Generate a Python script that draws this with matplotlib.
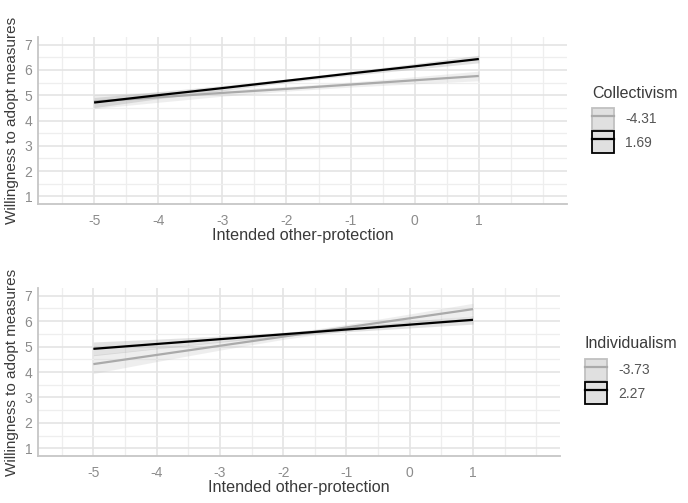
import numpy as np
import matplotlib
matplotlib.use("Agg")
import matplotlib.pyplot as plt
from matplotlib.patches import Patch
from matplotlib.lines import Line2D

plt.rcParams['font.family'] = ['Liberation Sans', 'DejaVu Sans']
plt.rcParams['axes.unicode_minus'] = False

# intended other-protection values where the fitted lines were read
x_vals = [-5, -4, -3, -2, -1, 0, 1]

# top panel: Collectivism moderator
coll_levels = ['-4.31', '1.69']
coll_fit_low = [4.75, 4.92, 5.09, 5.25, 5.42, 5.59, 5.76]
coll_fit_high = [4.71, 5.00, 5.28, 5.57, 5.86, 6.14, 6.43]
coll_se_low = [0.28, 0.20, 0.13, 0.09, 0.10, 0.14, 0.19]
coll_se_high = [0.20, 0.14, 0.10, 0.07, 0.08, 0.11, 0.15]

# bottom panel: Individualism moderator
ind_levels = ['-3.73', '2.27']
ind_fit_low = [4.31, 4.67, 5.03, 5.39, 5.75, 6.11, 6.47]
ind_fit_high = [4.91, 5.10, 5.29, 5.48, 5.67, 5.86, 6.05]
ind_se_low = [0.37, 0.26, 0.17, 0.11, 0.12, 0.17, 0.23]
ind_se_high = [0.27, 0.19, 0.12, 0.08, 0.09, 0.13, 0.17]

x_ticks = [-5, -4, -3, -2, -1, 0, 1]
y_ticks = [1, 2, 3, 4, 5, 6, 7]

line_cols = ['#aaaaaa', '#000000']
band_cols = ['#c4c4c4', '#9a9a9a']
band_alpha = [0.28, 0.28]

fig = plt.figure(figsize=(6.88, 5.03), dpi=100)


def panel(rect, fits, ses, levels, title, title_xy, leg_anchor):
    ax = fig.add_axes(rect)
    x = np.array(x_vals)
    for fit, se, bc, a in zip(fits, ses, band_cols, band_alpha):
        fit = np.array(fit)
        se = np.array(se)
        ax.fill_between(x, fit - se, fit + se, color=bc, alpha=a, lw=0)
    for fit, lc in zip(fits, line_cols):
        ax.plot(x, fit, color=lc, lw=1.6, solid_capstyle='butt')

    ax.set_xlim(-5.875, 2.375)
    ax.set_ylim(0.7, 7.3)
    ax.set_xticks(x_ticks)
    ax.set_xticks(np.arange(-5.5, 2.01, 0.5), minor=True)
    ax.set_yticks(y_ticks)
    ax.set_yticks(np.arange(1.5, 7, 1.0), minor=True)
    ax.grid(which='major', color='#e4e4e4', lw=1.2)
    ax.grid(which='minor', color='#eeeeee', lw=0.9)
    ax.set_axisbelow(True)
    ax.tick_params(which='both', length=0, labelsize=10, labelcolor='#8c8c8c')
    ax.tick_params(axis='x', pad=7)
    ax.tick_params(axis='y', pad=4)
    for s in ['top', 'right']:
        ax.spines[s].set_visible(False)
    for s in ['left', 'bottom']:
        ax.spines[s].set_color('#c6c6c6')
        ax.spines[s].set_linewidth(1.3)

    ax.set_xlabel('Intended other-protection', fontsize=11.7, color='#3a3a3a')
    ax.set_ylabel('Willingness to adopt measures', fontsize=11, color='#3a3a3a')
    ax.xaxis.set_label_coords(0.5, -0.145)
    ax.yaxis.set_label_coords(-0.036, 0.5)

    # legend title as its own text, keys below it like ggplot
    fig.text(title_xy[0], title_xy[1], title, fontsize=11.5, color='#3a3a3a',
             ha='left', va='center')
    handles = []
    for lc in line_cols:
        edge = '#000000' if lc == '#000000' else '#c0c0c0'
        handles.append((Patch(facecolor='#e0e0e0', edgecolor=edge, lw=1.3),
                        Line2D([], [], color=lc, lw=1.6)))
    leg = ax.legend(handles, levels, loc='upper left',
                    bbox_to_anchor=leg_anchor, bbox_transform=fig.transFigure,
                    frameon=False, fontsize=10,
                    handlelength=1.6, handleheight=2.05, labelspacing=0.1,
                    handletextpad=0.8, borderpad=0, borderaxespad=0)
    for t in leg.get_texts():
        t.set_color('#555555')
    return ax


panel([38 / 688, 1 - 204 / 503, 529 / 688, 167 / 503],
      [coll_fit_low, coll_fit_high], [coll_se_low, coll_se_high],
      coll_levels, 'Collectivism', (592 / 688, 1 - 93 / 503),
      (592 / 688, 1 - 108 / 503))
panel([38 / 688, 1 - 456 / 503, 522 / 688, 168 / 503],
      [ind_fit_low, ind_fit_high], [ind_se_low, ind_se_high],
      ind_levels, 'Individualism', (585 / 688, 1 - 344 / 503),
      (585 / 688, 1 - 359 / 503))

fig.savefig('out.png', dpi=100)
